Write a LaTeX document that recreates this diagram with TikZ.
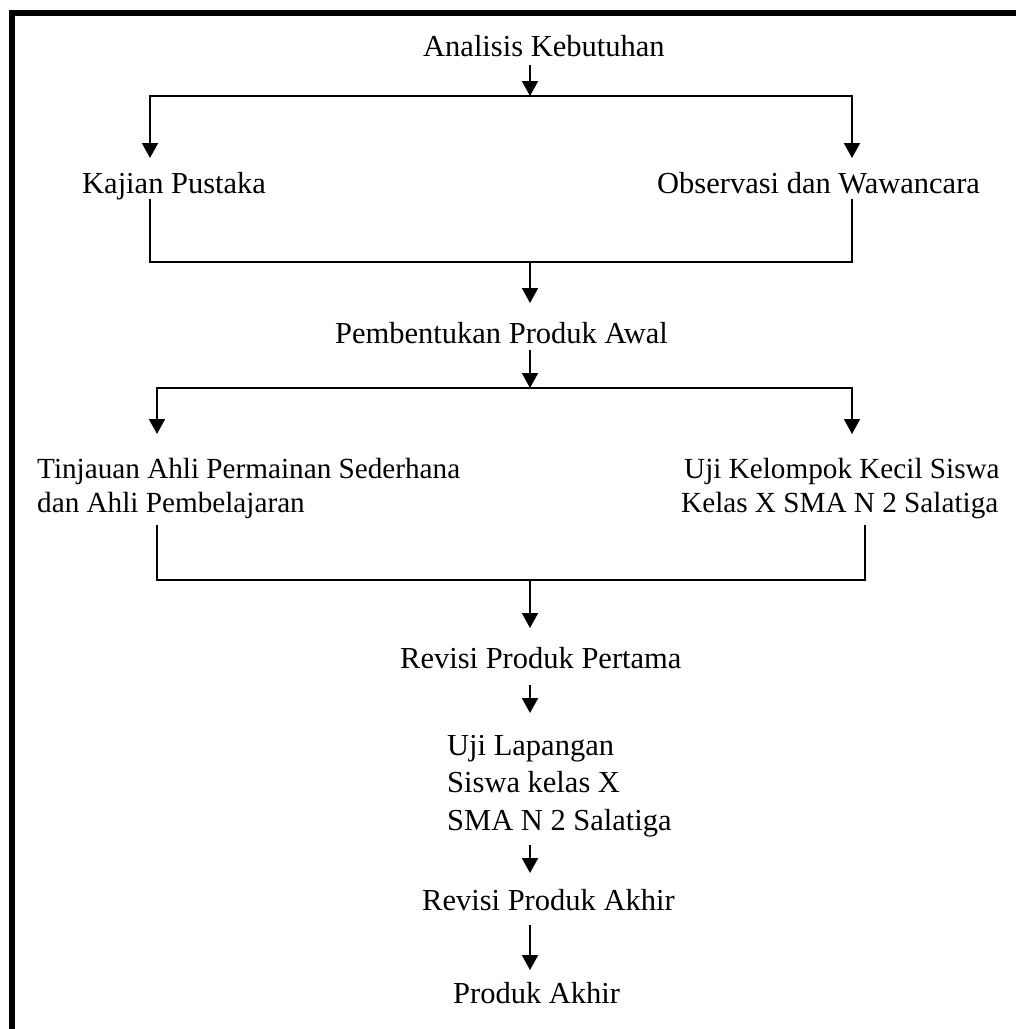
\documentclass[tikz,border=0pt]{standalone}
\usepackage{fontspec}
\setmainfont{Liberation Serif}
\usetikzlibrary{arrows.meta}
\begin{document}
\begin{tikzpicture}[x=1pt,y=-1pt,
  lbl/.style={inner sep=0pt, anchor=base west, font=\fontsize{30.5}{36}\selectfont},
  lblsm/.style={lbl, font=\fontsize{29.2}{36}\selectfont},
  conn/.style={line width=2pt},
  arr/.style={conn, -{Triangle[width=16pt,length=15pt]}},
  frame/.style={line width=6pt, line cap=rect}]
\useasboundingbox (0,0) rectangle (1016,1029);
\fill[white] (0,0) rectangle (1016,1029);
\draw[frame] (12,1032) -- (12,13) -- (1020,13);

% texts
\node[lbl] (an) at (423,56) {Analisis Kebutuhan};
\node[lbl] (kp) at (82,193) {Kajian Pustaka};
\node[lbl] (ow) at (657,193) {Observasi dan Wawancara};
\node[lbl] (pa) at (335,343) {Pembentukan Produk Awal};
\node[lblsm] (ta1) at (37,478) {Tinjauan Ahli Permainan Sederhana};
\node[lblsm] (ta2) at (37,512) {dan Ahli Pembelajaran};
\node[lblsm] (uk1) at (684,478) {Uji Kelompok Kecil Siswa};
\node[lblsm] (uk2) at (681,512) {Kelas X SMA N 2 Salatiga};
\node[lbl] (rp) at (400,668) {Revisi Produk Pertama};
\node[lbl] (ul1) at (447,755) {Uji Lapangan};
\node[lbl] (ul2) at (447,792) {Siswa kelas X};
\node[lbl] (ul3) at (447,830) {SMA N 2 Salatiga};
\node[lbl] (ra) at (422,910) {Revisi Produk Akhir};
\node[lbl] (pk) at (453,1003) {Produk Akhir};

% junction coordinates
\coordinate (anb) at (530,65);
\coordinate (j1) at (530,96);
\coordinate (kpt) at (150,158);
\coordinate (owt) at (852,158);
\coordinate (kpb) at (150,199);
\coordinate (owb) at (852,199);
\coordinate (j2) at (530,262);
\coordinate (pat) at (530,303);
\coordinate (pab) at (530,350);
\coordinate (j3) at (530,388);
\coordinate (tat) at (157,434);
\coordinate (ukt) at (852,434);
\coordinate (tab) at (157,525);
\coordinate (ukb) at (865,525);
\coordinate (j4) at (530,580);
\coordinate (rpt) at (530,628);
\coordinate (rpb) at (530,685);
\coordinate (ult) at (530,713);
\coordinate (ulb) at (530,845);
\coordinate (rat) at (530,873);
\coordinate (rab) at (530,925);
\coordinate (pkt) at (530,970);

% connectors
\draw[arr] (anb) -- (j1);
\draw[arr] (j1) -| (kpt);
\draw[arr] (j1) -| (owt);
\draw[conn] (kpb) |- (j2) -| (owb);
\draw[arr] (j2) -- (pat);
\draw[arr] (pab) -- (j3);
\draw[arr] (j3) -| (tat);
\draw[arr] (j3) -| (ukt);
\draw[conn] (tab) |- (j4) -| (ukb);
\draw[arr] (j4) -- (rpt);
\draw[arr] (rpb) -- (ult);
\draw[arr] (ulb) -- (rat);
\draw[arr] (rab) -- (pkt);
\end{tikzpicture}
\end{document}
